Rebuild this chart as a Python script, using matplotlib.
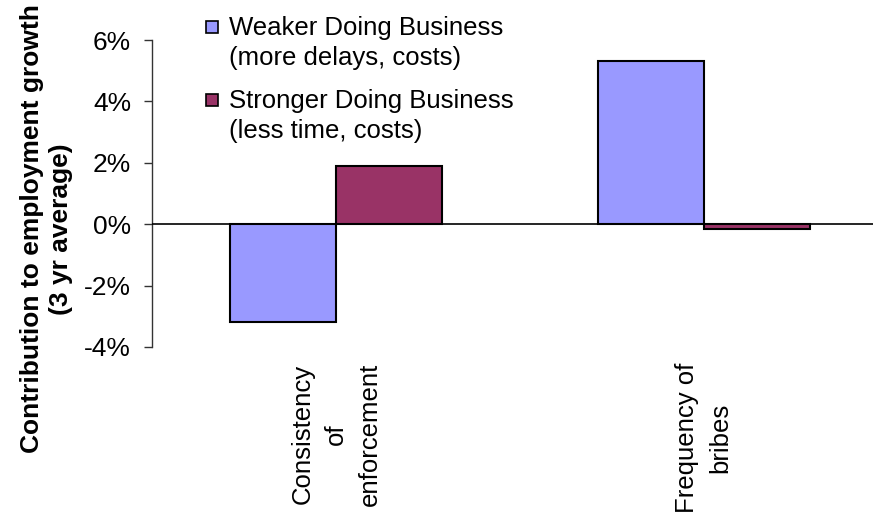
import matplotlib
matplotlib.use("Agg")
import matplotlib.pyplot as plt
from matplotlib.patches import Rectangle
import numpy as np

categories = ["Consistency\nof\nenforcement", "Frequency of\nbribes"]
series_names = [["Weaker Doing Business", "(more delays, costs)"],
                ["Stronger Doing Business", "(less time, costs)"]]
weaker = [-3.2, 5.3]
stronger = [1.9, -0.17]
colors = ["#9999FF", "#993366"]
yticks = [-4, -2, 0, 2, 4, 6]
ytick_labels = ["-4%", "-2%", "0%", "2%", "4%", "6%"]
ylabel = "Contribution to employment growth\n(3 yr average)"

plt.rcParams['font.family'] = ['Liberation Sans', 'DejaVu Sans']

W, H = 873, 518
fig = plt.figure(figsize=(W/100, H/100), dpi=100)
ax = fig.add_axes([152/W, 1 - 347/H, 1 - 152/W, (347 - 40)/H])

x = np.arange(len(categories))
w = 0.288
ax.bar(x - w/2, weaker, w, color=colors[0], edgecolor='black', linewidth=1.5, zorder=3)
ax.bar(x + w/2, stronger, w, color=colors[1], edgecolor='black', linewidth=1.5, zorder=3)
ax.axhline(0, color='black', linewidth=1.2, zorder=4)

ax.set_ylim(-4, 6)
ax.set_xlim(-0.5, (W - 152) / 368 - 0.5)
ax.set_yticks(yticks)
ax.set_yticklabels(ytick_labels, fontsize=19)
ax.tick_params(axis='y', length=6, width=1, pad=9, color='#333333')
ax.set_xticks(x)
ax.set_xticklabels(categories, rotation=90, fontsize=18.5, ha='center', va='top',
                   multialignment='center', linespacing=1.5)
ax.tick_params(axis='x', length=0, pad=11)

for s in ['top', 'right', 'bottom']:
    ax.spines[s].set_visible(False)
ax.spines['left'].set_color('#333333')
ax.spines['left'].set_linewidth(1)

ax.set_ylabel(ylabel, fontsize=19, fontweight='bold', linespacing=1.25)
ax.yaxis.set_label_coords(-0.11, 0.385)

# legend (two-line labels, marker beside the first line)
baselines = [[35, 65], [108, 138]]
for c, lines, bl in zip(colors, series_names, baselines):
    fig.patches.append(Rectangle((206/W, 1 - (bl[0] - 2)/H), 12/W, 12/H,
                                 transform=fig.transFigure, facecolor=c,
                                 edgecolor='black', linewidth=1.2))
    for t, b in zip(lines, bl):
        fig.text(229/W, 1 - b/H, t, fontsize=18.5, va='baseline', ha='left')

fig.savefig("out.png", dpi=100)
